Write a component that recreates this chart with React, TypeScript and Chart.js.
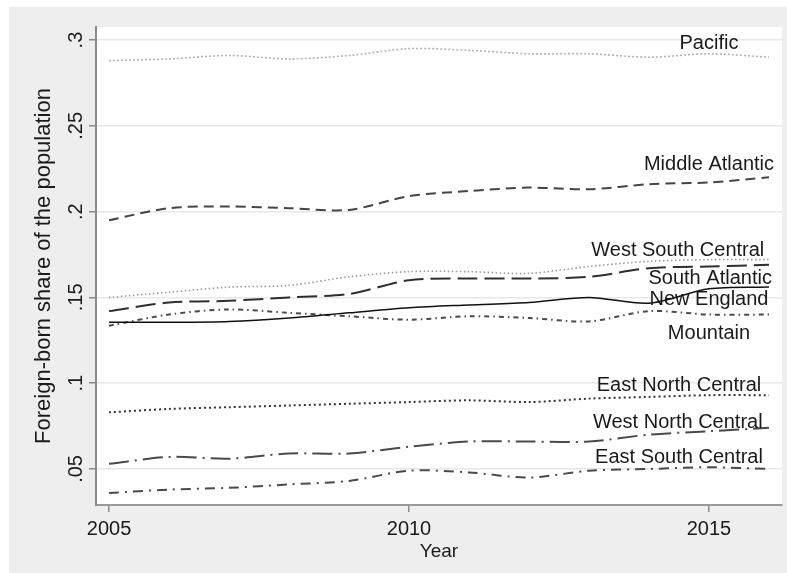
import React, { useEffect, useRef } from "react";
import { Chart, registerables } from "chart.js";

Chart.register(...registerables);

const years = [2005, 2006, 2007, 2008, 2009, 2010, 2011, 2012, 2013, 2014, 2015, 2016];

const pacific = [0.288, 0.289, 0.291, 0.289, 0.291, 0.295, 0.294, 0.292, 0.292, 0.29, 0.292, 0.29];
const middleAtlantic = [0.195, 0.202, 0.203, 0.202, 0.201, 0.209, 0.212, 0.214, 0.213, 0.216, 0.217, 0.22];
const westSouthCentral = [0.15, 0.153, 0.156, 0.157, 0.162, 0.165, 0.165, 0.164, 0.168, 0.171, 0.172, 0.172];
const southAtlantic = [0.142, 0.147, 0.148, 0.15, 0.152, 0.16, 0.161, 0.161, 0.162, 0.167, 0.168, 0.169];
const newEngland = [0.1355, 0.1355, 0.136, 0.138, 0.141, 0.144, 0.1456, 0.147, 0.15, 0.1466, 0.155, 0.156];
const mountain = [0.1335, 0.14, 0.143, 0.141, 0.139, 0.137, 0.139, 0.138, 0.136, 0.142, 0.14, 0.14];
const eastNorthCentral = [0.083, 0.085, 0.086, 0.087, 0.088, 0.089, 0.09, 0.089, 0.091, 0.092, 0.093, 0.093];
const westNorthCentral = [0.053, 0.057, 0.056, 0.059, 0.059, 0.063, 0.066, 0.066, 0.066, 0.07, 0.072, 0.074];
const eastSouthCentral = [0.036, 0.038, 0.039, 0.041, 0.043, 0.049, 0.048, 0.045, 0.049, 0.05, 0.051, 0.05];

const yTickValues = [0.05, 0.1, 0.15, 0.2, 0.25, 0.3];
const yTickLabels = [".05", ".1", ".15", ".2", ".25", ".3"];
const xTickValues = [2005, 2010, 2015];
const xTickLabels = ["2005", "2010", "2015"];

const xTitle = "Year";
const yTitle = "Foreign-born share of the population";

// region names with the place of their label, in data units
const regionNames = [
  "Pacific",
  "Middle Atlantic",
  "West South Central",
  "South Atlantic",
  "New England",
  "Mountain",
  "East North Central",
  "West North Central",
  "East South Central",
];
const labelX = [2015, 2015, 2014.48, 2015.02, 2015, 2015, 2014.5, 2014.48, 2014.5];
const labelY = [0.2988, 0.2283, 0.1782, 0.1621, 0.1497, 0.13, 0.0995, 0.0781, 0.0576];

const seriesValues = [
  pacific,
  middleAtlantic,
  westSouthCentral,
  southAtlantic,
  newEngland,
  mountain,
  eastNorthCentral,
  westNorthCentral,
  eastSouthCentral,
];

const lineStyles = [
  { color: "#b4b4b4", width: 1.6, dash: [2, 2] },
  { color: "#454545", width: 2, dash: [10, 6] },
  { color: "#9a9a9a", width: 1.6, dash: [1.5, 2.5] },
  { color: "#2e2e2e", width: 2, dash: [20, 7] },
  { color: "#111111", width: 1.5, dash: [] },
  { color: "#4a4a4a", width: 2, dash: [5, 4, 1.5, 4] },
  { color: "#333333", width: 2, dash: [2, 3] },
  { color: "#4a4a4a", width: 2, dash: [20, 6, 2, 6] },
  { color: "#4a4a4a", width: 2, dash: [10, 6, 2, 6] },
];

const FONT = '"Liberation Sans", Arial, Helvetica, sans-serif';

const decorPlugin = {
  id: "decor",
  beforeDraw(chart: any) {
    const { ctx, chartArea, width, height } = chart;
    ctx.save();
    ctx.fillStyle = "#eeeeee";
    ctx.fillRect(0, 0, width, height);
    ctx.fillStyle = "#ffffff";
    ctx.fillRect(chartArea.left, chartArea.top, chartArea.right - chartArea.left, chartArea.bottom - chartArea.top);
    ctx.restore();
  },
  afterDraw(chart: any) {
    const { ctx, chartArea, scales } = chart;
    const xs = scales.x;
    const ys = scales.y;
    ctx.save();
    ctx.fillStyle = "#1a1a1a";

    // y tick labels (rotated)
    ctx.font = `20px ${FONT}`;
    yTickValues.forEach((v, i) => {
      const py = ys.getPixelForValue(v);
      ctx.save();
      ctx.translate(chartArea.left - 14, py);
      ctx.rotate(-Math.PI / 2);
      ctx.textAlign = "center";
      ctx.textBaseline = "alphabetic";
      ctx.fillText(yTickLabels[i], 0, 0);
      ctx.restore();
    });

    // x tick labels
    ctx.textAlign = "center";
    ctx.textBaseline = "alphabetic";
    xTickValues.forEach((v, i) => {
      ctx.fillText(xTickLabels[i], xs.getPixelForValue(v), chartArea.bottom + 30);
    });

    // x title
    ctx.font = `19px ${FONT}`;
    ctx.fillText(xTitle, (chartArea.left + chartArea.right) / 2, chartArea.bottom + 52);

    // y title
    ctx.save();
    ctx.font = `22px ${FONT}`;
    ctx.translate(chartArea.left - 46, (chartArea.top + chartArea.bottom) / 2);
    ctx.rotate(-Math.PI / 2);
    ctx.textAlign = "center";
    ctx.textBaseline = "alphabetic";
    ctx.fillText(yTitle, 0, 0);
    ctx.restore();

    // region labels
    ctx.font = `20px ${FONT}`;
    ctx.textAlign = "center";
    ctx.textBaseline = "middle";
    regionNames.forEach((name, i) => {
      ctx.fillText(name, xs.getPixelForValue(labelX[i]), ys.getPixelForValue(labelY[i]) + 1.5);
    });
    ctx.restore();
  },
};

export default function App() {
  const ref = useRef<HTMLCanvasElement | null>(null);

  useEffect(() => {
    if (!ref.current) return;
    const datasets = regionNames.map((name, i) => ({
      label: name,
      data: years.map((yr, j) => ({ x: yr, y: seriesValues[i][j] })),
      borderColor: lineStyles[i].color,
      borderWidth: lineStyles[i].width,
      borderDash: lineStyles[i].dash,
      pointRadius: 0,
      fill: false,
      tension: 0.3,
    }));

    const chart = new Chart(ref.current, {
      type: "line",
      data: { datasets },
      plugins: [decorPlugin],
      options: {
        animation: false,
        responsive: false,
        devicePixelRatio: 1,
        layout: { padding: { top: 20, right: 5, left: 0, bottom: 0 } },
        plugins: {
          legend: { display: false },
          tooltip: { enabled: false },
          title: { display: false },
        },
        scales: {
          x: {
            type: "linear",
            min: 2004.783,
            max: 2016.217,
            afterBuildTicks: (scale: any) => {
              scale.ticks = xTickValues.map((v) => ({ value: v }));
            },
            afterFit: (scale: any) => {
              scale.height = 68;
            },
            ticks: { display: false },
            grid: {
              drawOnChartArea: false,
              drawTicks: true,
              tickLength: 7,
              tickColor: "#8a8a8a",
              lineWidth: 1.5,
            },
            border: { display: true, color: "#9a9a9a", width: 2 },
          },
          y: {
            type: "linear",
            min: 0.029,
            max: 0.3076,
            afterBuildTicks: (scale: any) => {
              scale.ticks = yTickValues.map((v) => ({ value: v }));
            },
            afterFit: (scale: any) => {
              scale.width = 87;
            },
            ticks: { display: false },
            grid: {
              drawOnChartArea: true,
              color: "#e8e8e8",
              lineWidth: 1.5,
              drawTicks: true,
              tickLength: 7,
              tickColor: "#8a8a8a",
            },
            border: { display: true, color: "#8a8a8a", width: 2 },
          },
        },
      },
    } as any);

    return () => chart.destroy();
  }, []);

  return (
    <div style={{ position: "fixed", left: 9, top: 7, width: 778, height: 566 }}>
      <canvas ref={ref} width={778} height={566} style={{ width: 778, height: 566, display: "block" }} />
    </div>
  );
}
